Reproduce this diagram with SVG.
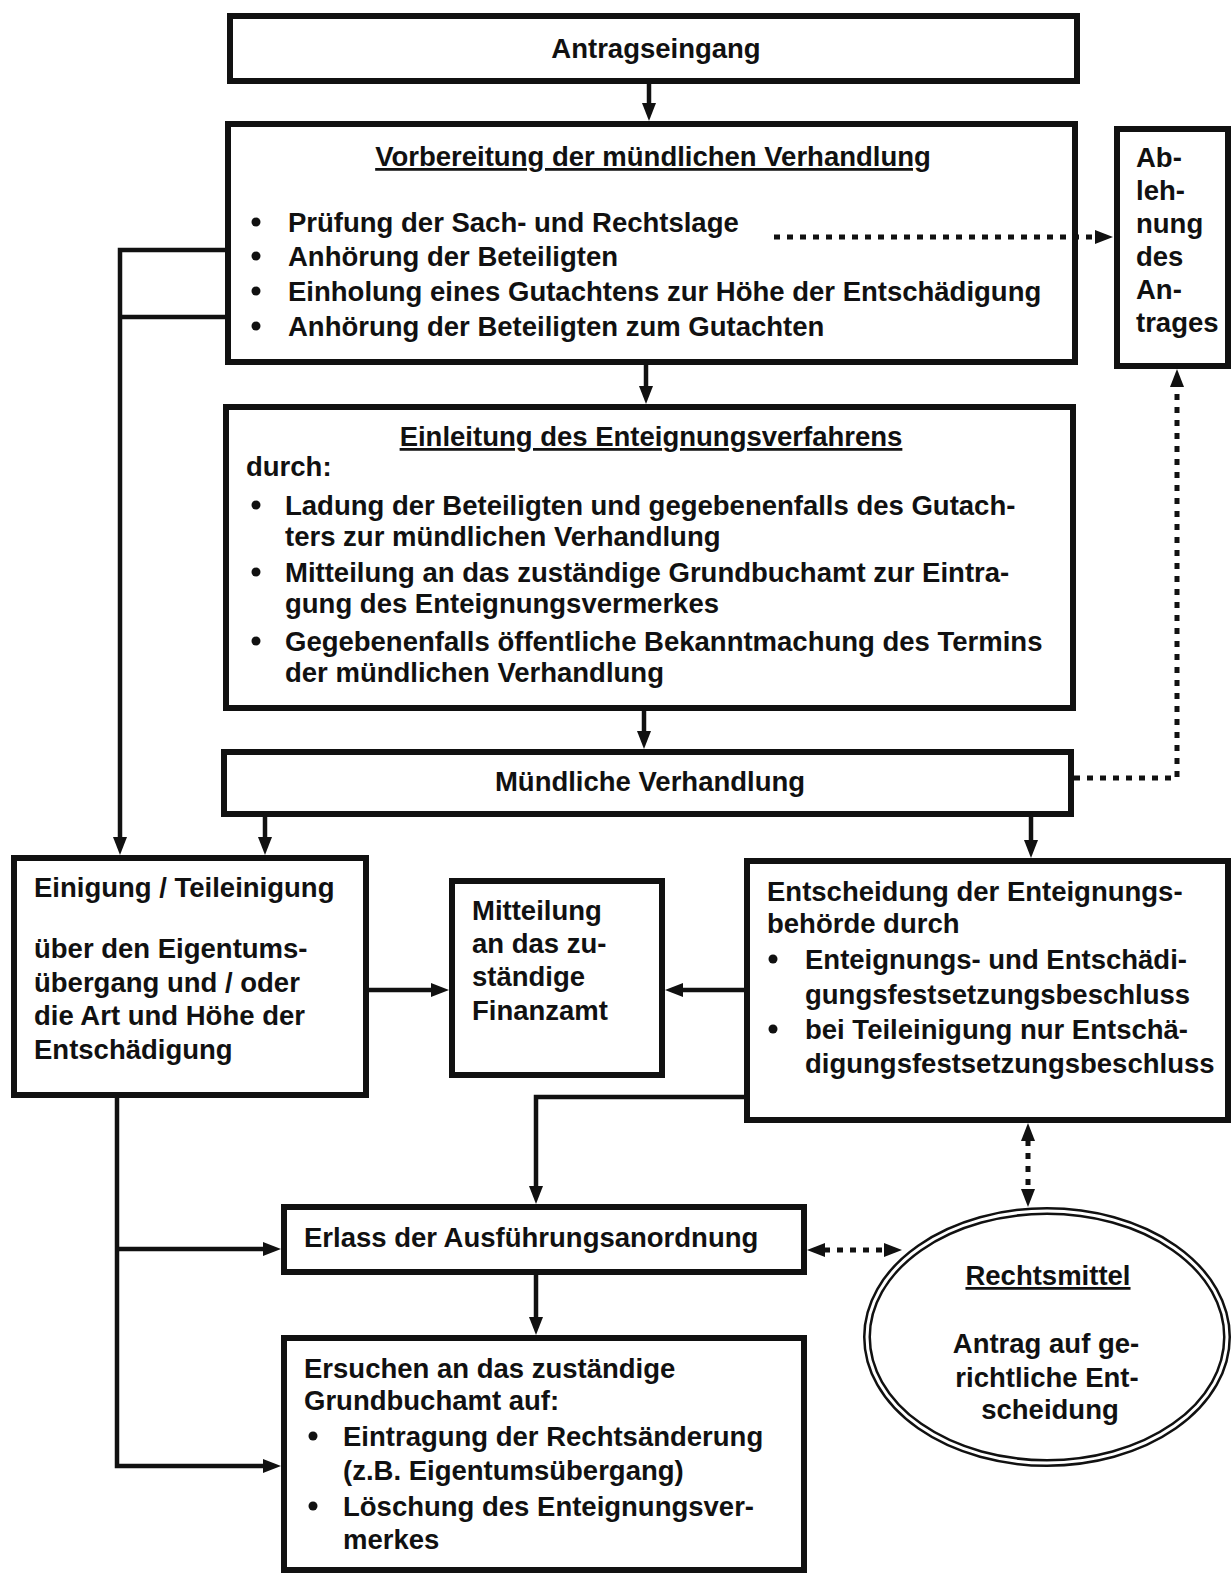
<svg xmlns="http://www.w3.org/2000/svg" width="1231" height="1577" viewBox="0 0 1231 1577">
<style>
  .box { fill: #fff; stroke: #111; stroke-width: 6; }
  .t { font-family: "Liberation Sans", Arial, sans-serif; font-weight: bold; font-size: 27.5px; fill: #111; }
  .c { text-anchor: middle; }
  .u { text-decoration: underline; }
  .ln { fill: none; stroke: #111; stroke-width: 4.5; }
  .dot { fill: none; stroke: #111; stroke-width: 5; stroke-dasharray: 6 7; }
  .b { fill: #111; }
</style>
<defs>
  <marker id="ah" viewBox="0 0 18 14" markerWidth="18" markerHeight="14" refX="1" refY="7" orient="auto-start-reverse" markerUnits="userSpaceOnUse">
    <path d="M0,0 L18,7 L0,14 z" fill="#111"/>
  </marker>
</defs>
<rect width="1231" height="1577" fill="#fff"/>

<g id="antragseingang">
  <rect class="box" x="230" y="16" width="847" height="65"/>
  <text class="t c" x="656" y="58">Antragseingang</text>
</g>

<g id="vorbereitung">
  <rect class="box" x="228" y="124" width="847" height="238"/>
  <text class="t c u" x="653" y="166">Vorbereitung der mündlichen Verhandlung</text>
  <circle class="b" cx="256" cy="222" r="4.5"/>
  <text class="t" x="288" y="232">Prüfung der Sach- und Rechtslage</text>
  <circle class="b" cx="256" cy="256" r="4.5"/>
  <text class="t" x="288" y="266">Anhörung der Beteiligten</text>
  <circle class="b" cx="256" cy="291" r="4.5"/>
  <text class="t" x="288" y="301">Einholung eines Gutachtens zur Höhe der Entschädigung</text>
  <circle class="b" cx="256" cy="326" r="4.5"/>
  <text class="t" x="288" y="336">Anhörung der Beteiligten zum Gutachten</text>
</g>

<g id="ablehnung">
  <rect class="box" x="1117" y="129" width="111" height="237"/>
  <text class="t" x="1136" y="167">Ab-</text>
  <text class="t" x="1136" y="200">leh-</text>
  <text class="t" x="1136" y="233">nung</text>
  <text class="t" x="1136" y="266">des</text>
  <text class="t" x="1136" y="299">An-</text>
  <text class="t" x="1136" y="332">trages</text>
</g>

<g id="einleitung">
  <rect class="box" x="226" y="407" width="847" height="301"/>
  <text class="t c u" x="651" y="446">Einleitung des Enteignungsverfahrens</text>
  <text class="t" x="246" y="476">durch:</text>
  <circle class="b" cx="256" cy="505" r="4.5"/>
  <text class="t" x="285" y="515">Ladung der Beteiligten und gegebenenfalls des Gutach-</text>
  <text class="t" x="285" y="546">ters zur mündlichen Verhandlung</text>
  <circle class="b" cx="256" cy="572" r="4.5"/>
  <text class="t" x="285" y="582">Mitteilung an das zuständige Grundbuchamt zur Eintra-</text>
  <text class="t" x="285" y="613">gung des Enteignungsvermerkes</text>
  <circle class="b" cx="256" cy="641" r="4.5"/>
  <text class="t" x="285" y="651">Gegebenenfalls öffentliche Bekanntmachung des Termins</text>
  <text class="t" x="285" y="682">der mündlichen Verhandlung</text>
</g>

<g id="muendliche">
  <rect class="box" x="224" y="752" width="847" height="62"/>
  <text class="t c" x="650" y="791">Mündliche Verhandlung</text>
</g>

<g id="einigung">
  <rect class="box" x="14" y="858" width="352" height="237"/>
  <text class="t" x="34" y="897">Einigung / Teileinigung</text>
  <text class="t" x="34" y="958">über den Eigentums-</text>
  <text class="t" x="34" y="992">übergang und / oder</text>
  <text class="t" x="34" y="1025">die Art und Höhe der</text>
  <text class="t" x="34" y="1059">Entschädigung</text>
</g>

<g id="mitteilung">
  <rect class="box" x="452" y="881" width="210" height="194"/>
  <text class="t" x="472" y="920">Mitteilung</text>
  <text class="t" x="472" y="953">an das zu-</text>
  <text class="t" x="472" y="986">ständige</text>
  <text class="t" x="472" y="1020">Finanzamt</text>
</g>

<g id="entscheidung">
  <rect class="box" x="747" y="861" width="481" height="259"/>
  <text class="t" x="767" y="901">Entscheidung der Enteignungs-</text>
  <text class="t" x="767" y="933">behörde durch</text>
  <circle class="b" cx="773" cy="959" r="4.5"/>
  <text class="t" x="805" y="969">Enteignungs- und Entschädi-</text>
  <text class="t" x="805" y="1004">gungsfestsetzungsbeschluss</text>
  <circle class="b" cx="773" cy="1029" r="4.5"/>
  <text class="t" x="805" y="1039">bei Teileinigung nur Entschä-</text>
  <text class="t" x="805" y="1073">digungsfestsetzungsbeschluss</text>
</g>

<g id="erlass">
  <rect class="box" x="284" y="1207" width="520" height="65"/>
  <text class="t" x="304" y="1247">Erlass der Ausführungsanordnung</text>
</g>

<g id="ersuchen">
  <rect class="box" x="284" y="1338" width="520" height="232"/>
  <text class="t" x="304" y="1378">Ersuchen an das zuständige</text>
  <text class="t" x="304" y="1410">Grundbuchamt auf:</text>
  <circle class="b" cx="313" cy="1436" r="4.5"/>
  <text class="t" x="343" y="1446">Eintragung der Rechtsänderung</text>
  <text class="t" x="343" y="1480">(z.B. Eigentumsübergang)</text>
  <circle class="b" cx="313" cy="1506" r="4.5"/>
  <text class="t" x="343" y="1516">Löschung des Enteignungsver-</text>
  <text class="t" x="343" y="1549">merkes</text>
</g>

<g id="rechtsmittel">
  <ellipse cx="1047" cy="1337" rx="180" ry="126" fill="#fff" stroke="#111" stroke-width="8"/>
  <ellipse cx="1047" cy="1337" rx="180" ry="126" fill="none" stroke="#fff" stroke-width="3"/>
  <text class="t c u" x="1048" y="1285">Rechtsmittel</text>
  <text class="t c" x="1046" y="1353">Antrag auf ge-</text>
  <text class="t c" x="1047" y="1387">richtliche Ent-</text>
  <text class="t c" x="1050" y="1419">scheidung</text>
</g>

<g id="connectors">
  <path class="ln" d="M649,84 V104" marker-end="url(#ah)"/>
  <path class="ln" d="M646,365 V387" marker-end="url(#ah)"/>
  <path class="ln" d="M644,711 V732" marker-end="url(#ah)"/>
  <path class="ln" d="M265,817 V838" marker-end="url(#ah)"/>
  <path class="ln" d="M1031,817 V841" marker-end="url(#ah)"/>
  <path class="ln" d="M225,250 H120 V838" marker-end="url(#ah)"/>
  <path class="ln" d="M225,317 H120"/>
  <path class="ln" d="M369,990 H432" marker-end="url(#ah)"/>
  <path class="ln" d="M744,990 H682" marker-end="url(#ah)"/>
  <path class="ln" d="M744,1097 H536 V1187" marker-end="url(#ah)"/>
  <path class="ln" d="M536,1275 V1318" marker-end="url(#ah)"/>
  <path class="ln" d="M117,1098 V1466 H264" marker-end="url(#ah)"/>
  <path class="ln" d="M117,1249 H264" marker-end="url(#ah)"/>
  <path class="dot" d="M774,237 H1096" marker-end="url(#ah)"/>
  <path class="dot" d="M1074,778 H1177 V386" marker-end="url(#ah)"/>
  <path class="dot" d="M1028,1140 V1190" marker-start="url(#ah)" marker-end="url(#ah)"/>
  <path class="dot" d="M824,1250 H885" marker-start="url(#ah)" marker-end="url(#ah)"/>
</g>
</svg>
